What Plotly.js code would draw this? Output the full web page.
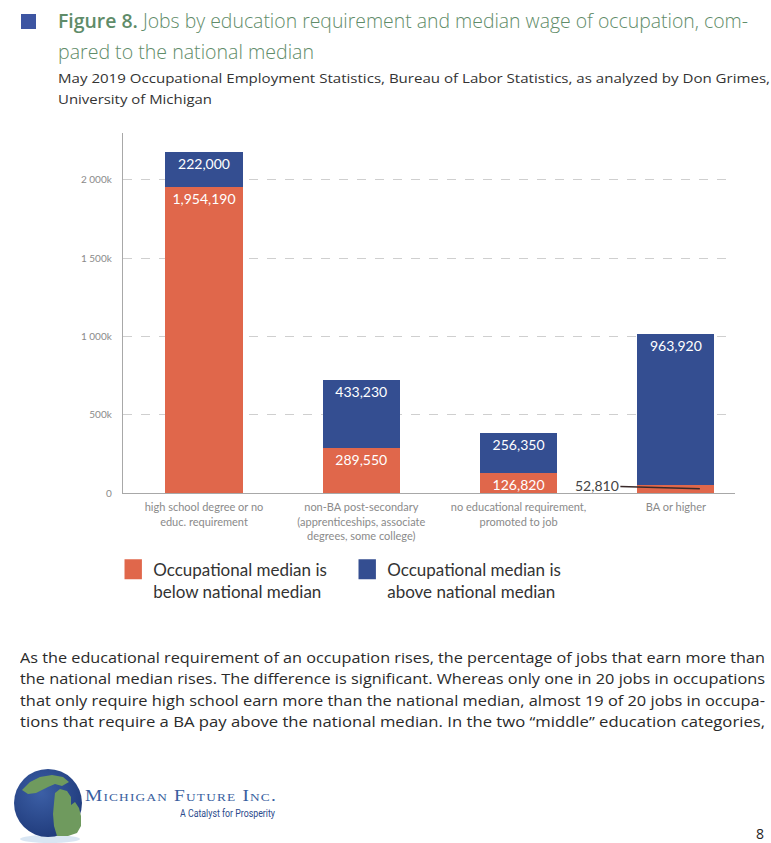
<!DOCTYPE html>
<html>
<head>
<meta charset="utf-8">
<script src="https://cdn.plot.ly/plotly-3.0.1.min.js"></script>
<style>
  html, body { margin:0; padding:0; background:#fff; }
  body { width:771px; height:843px; position:relative; overflow:hidden; }
  .abs { position:absolute; }
  .row { position:absolute; left:0; white-space:nowrap; }
  .ln { display:inline-block; white-space:nowrap; transform-origin:0 50%; }
  #title { left:58px; top:0; color:#5f8c69; font-family:"Open Sans","Noto Sans",sans-serif; font-size:20px; font-weight:300; }
  #title b { font-weight:600; }
  #sub { left:58px; top:0; color:#333; font-family:"Open Sans","Noto Sans",sans-serif; font-size:13.5px; }
  #body { left:20px; top:0; color:#2a2a2a; font-family:"Open Sans","Noto Sans",sans-serif; font-size:14.5px; }
  #chart { left:0; top:0; width:771px; height:843px; }
</style>
</head>
<body>
<div class="abs" style="left:21px;top:14px;width:15px;height:15px;background:#3d55a2;"></div>

<div id="title" class="abs">
  <div class="row" style="top:7px;"><span class="ln" data-w="690"><b>Figure 8.</b> Jobs by education requirement and median wage of occupation, com-</span></div>
  <div class="row" style="top:38px;"><span class="ln" data-w="256">pared to the national median</span></div>
</div>
<div id="sub" class="abs">
  <div class="row" style="top:69px;"><span class="ln" data-w="712">May 2019 Occupational Employment Statistics, Bureau of Labor Statistics, as analyzed by Don Grimes,</span></div>
  <div class="row" style="top:90px;"><span class="ln" data-w="154">University of Michigan</span></div>
</div>
<div id="body" class="abs">
  <div class="row" style="top:647.5px;"><span class="ln" data-w="745">As the educational requirement of an occupation rises, the percentage of jobs that earn more than</span></div>
  <div class="row" style="top:669px;"><span class="ln" data-w="745">the national median rises. The difference is significant. Whereas only one in 20 jobs in occupations</span></div>
  <div class="row" style="top:690.5px;"><span class="ln" data-w="745">that only require high school earn more than the national median, almost 19 of 20 jobs in occupa-</span></div>
  <div class="row" style="top:712px;"><span class="ln" data-w="745">tions that require a BA pay above the national median. In the two “middle” education categories,</span></div>
</div>

<svg class="abs" style="left:0;top:760px;" width="100" height="83">
  <defs>
    <radialGradient id="gl" cx="40%" cy="35%" r="70%">
      <stop offset="0%" stop-color="#3c5fa6"/>
      <stop offset="100%" stop-color="#1f3a7a"/>
    </radialGradient>
  </defs>
  <ellipse cx="50" cy="79" rx="30" ry="4" fill="#cfe0f0" opacity="0.8"/>
  <circle cx="48" cy="43" r="34" fill="url(#gl)"/>
  <path d="M22,30 L30,22 L40,17 L52,15 L63,17 L69,22 L62,26 L55,24 L48,27 L42,30 L36,33 L28,34 Z" fill="#6f9a5e"/>
  <path d="M55,33 L60,29 L67,31 L71,37 L71,45 L75,42 L79,48 L81,56 L81,66 L77,73 L68,76 L57,76 L54,66 L53,54 L54,43 Z" fill="#6f9a5e"/>
</svg>
<div class="abs" style="left:85px;top:787px;color:#3a5fa0;font-family:'Liberation Serif','DejaVu Serif',serif;font-size:16px;font-variant:small-caps;letter-spacing:1px;">
  <span class="ln" data-w="192">Michigan Future Inc.</span>
</div>
<div class="abs" style="left:180px;top:808px;color:#2b4a8c;font-family:'Roboto','Liberation Sans',sans-serif;font-size:10px;">
  <span class="ln" data-w="95">A Catalyst for Prosperity</span>
</div>
<div class="abs" style="left:756px;top:824px;color:#222;font-family:'Open Sans','Liberation Sans',sans-serif;font-size:14px;">8</div>

<div id="chart" class="abs"></div>
<script>
// fit each text line to the width it spans in the reference (condensed look)
document.querySelectorAll(".ln").forEach(el => {
  const w = +el.dataset.w;
  const nat = el.getBoundingClientRect().width;
  if (w && nat) el.style.transform = "scaleX(" + (w / nat) + ")";
});

const categories = [
  "high school degree or no<br>educ. requirement",
  "non-BA post-secondary<br>(apprenticeships, associate<br>degrees, some college)",
  "no educational requirement,<br>promoted to job",
  "BA or higher"
];
const belowMedian = [1954190, 289550, 126820, 52810];
const aboveMedian = [222000, 433230, 256350, 963920];
const seriesNames = [
  "Occupational median is<br>below national median",
  "Occupational median is<br>above national median"
];
const yTickVals = [0, 500000, 1000000, 1500000, 2000000];
const yTickText = ["0", "500k", "1 000k", "1 500k", "2 000k"];

const ORANGE = "#e0674b";
const BLUE = "#344e91";
const fmt = v => v.toLocaleString("en-US");

// the smallest segment is too thin to hold its label; it is labelled outside
const smallIdx = belowMedian.length - 1;

const labelFont = { family: "Lato, sans-serif", size: 14, color: "#fff" };
const traces = [
  {
    type: "bar", name: seriesNames[0], x: categories, y: belowMedian,
    marker: { color: ORANGE, line: { width: 0 } },
    text: belowMedian.map(fmt),
    textposition: belowMedian.map((v, i) => i === smallIdx ? "none" : "inside"),
    insidetextanchor: "end", textangle: 0, constraintext: "none",
    textfont: labelFont, width: 0.49
  },
  {
    type: "bar", name: seriesNames[1], x: categories, y: aboveMedian,
    marker: { color: BLUE, line: { width: 0 } },
    text: aboveMedian.map(fmt),
    textposition: "inside", insidetextanchor: "end", textangle: 0, constraintext: "none",
    textfont: labelFont, width: 0.49
  }
];

const layout = {
  width: 771, height: 843,
  margin: { l: 123, r: 36, t: 133, b: 350, pad: 0 },
  paper_bgcolor: "rgba(0,0,0,0)", plot_bgcolor: "rgba(0,0,0,0)",
  barmode: "stack",
  font: { family: "Lato, sans-serif", color: "#8a8a8a" },
  xaxis: {
    type: "category", range: [-0.515, 3.376],
    showline: true, linecolor: "#a8a8a8", linewidth: 1.2,
    showgrid: false, zeroline: false, ticks: "", ticklabelstandoff: 4,
    tickfont: { family: "Lato, sans-serif", size: 11, color: "#8a8a8a" },
    fixedrange: true
  },
  yaxis: {
    range: [0, 2300000],
    tickvals: yTickVals, ticktext: yTickText,
    showline: true, linecolor: "#a8a8a8", linewidth: 1.2,
    showgrid: true, gridcolor: "#cfcfcf", griddash: "dash", gridwidth: 1,
    zeroline: false, ticks: "", ticklabelstandoff: 8,
    tickfont: { family: "Lato, sans-serif", size: 10, color: "#8a8a8a" },
    fixedrange: true
  },
  showlegend: true,
  legend: {
    orientation: "h", x: -0.016, xanchor: "left", y: -0.163, yanchor: "top",
    traceorder: "normal", entrywidth: 189, entrywidthmode: "pixels",
    font: { family: "Lato, sans-serif", size: 17, color: "#333" },
    valign: "top", bgcolor: "rgba(0,0,0,0)"
  },
  annotations: [{
    xref: "x", yref: "y", x: smallIdx, y: belowMedian[smallIdx] / 2,
    xshift: 24, ax: -103, ay: -3,
    text: fmt(belowMedian[smallIdx]),
    showarrow: true, arrowhead: 0, arrowwidth: 1.5, arrowcolor: "#3a2a2a", standoff: 0,
    font: { family: "Lato, sans-serif", size: 14, color: "#444" }
  }]
};

Plotly.newPlot("chart", traces, layout, { staticPlot: true, displayModeBar: false }).then(() => {
  document.querySelectorAll("#chart .legend .legendpoints path").forEach(p => {
    p.setAttribute("transform", "translate(20,0) scale(1.45,1.65)");
  });
});
</script>
</body>
</html>
